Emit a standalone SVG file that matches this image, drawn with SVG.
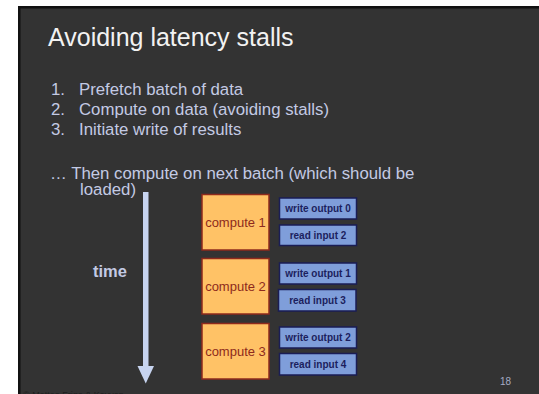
<svg xmlns="http://www.w3.org/2000/svg" width="539" height="394" viewBox="0 0 539 394">
  <style>
    .title { font-family: "Liberation Sans", Arial, sans-serif; font-size: 25px; fill: #F2F2F2; }
    .body { font-family: "Liberation Sans", Arial, sans-serif; font-size: 16.8px; fill: #C3CAE4; }
    .compute rect { fill: #FFC266; stroke: #8E2A1C; stroke-width: 1.5; }
    .compute text { font-family: "Liberation Sans", Arial, sans-serif; font-size: 13px; fill: #8E2A1C; text-anchor: middle; }
    .io rect { fill: #7F9EDA; stroke: #1A1D55; stroke-width: 1.5; }
    .io text { font-family: "Liberation Sans", Arial, sans-serif; font-size: 10px; font-weight: bold; fill: #1C1F5E; text-anchor: middle; }
  </style>

  <!-- page + slide frame -->
  <rect x="0" y="0" width="539" height="394" fill="#FFFFFF"/>
  <rect x="18" y="6" width="530" height="400" fill="#111111"/>
  <rect x="20.5" y="8.5" width="530" height="400" fill="#333333"/>

  <!-- heading and bullet text -->
  <text class="title" x="48" y="46">Avoiding latency stalls</text>
  <text class="body" x="51" y="95">1.</text>
  <text class="body" x="79" y="95">Prefetch batch of data</text>
  <text class="body" x="51" y="115">2.</text>
  <text class="body" x="79" y="115">Compute on data (avoiding stalls)</text>
  <text class="body" x="51" y="135">3.</text>
  <text class="body" x="79" y="135">Initiate write of results</text>
  <text class="body" x="50" y="179">… Then compute on next batch (which should be</text>
  <text class="body" x="80" y="195">loaded)</text>
  <text x="93" y="277" font-family="Liberation Sans, Arial, sans-serif" font-size="16.5" font-weight="bold" fill="#C3CAE4">time</text>

  <!-- time axis -->
  <g id="connectors">
    <rect x="143" y="192" width="5.5" height="175" fill="#C7D4F0"/>
    <polygon points="137.5,366 154,366 145.75,383.5" fill="#C7D4F0"/>
  </g>

  <!-- compute blocks -->
  <g id="compute1" class="compute">
    <rect x="202" y="194.5" width="67" height="55.5"/>
    <text x="235.5" y="227">compute 1</text>
  </g>
  <g id="compute2" class="compute">
    <rect x="202" y="258.5" width="67" height="55.5"/>
    <text x="235.5" y="291">compute 2</text>
  </g>
  <g id="compute3" class="compute">
    <rect x="202" y="323.5" width="67" height="55.5"/>
    <text x="235.5" y="356">compute 3</text>
  </g>

  <!-- transfer blocks -->
  <g id="write0" class="io">
    <rect x="279.5" y="198" width="77" height="21"/>
    <text x="318" y="212">write output 0</text>
  </g>
  <g id="read2" class="io">
    <rect x="279.5" y="225" width="77" height="20.5"/>
    <text x="318" y="239">read input 2</text>
  </g>
  <g id="write1" class="io">
    <rect x="279.5" y="263" width="77" height="21"/>
    <text x="318" y="277">write output 1</text>
  </g>
  <g id="read3" class="io">
    <rect x="278.5" y="289.5" width="77.5" height="21.5"/>
    <text x="317.5" y="304">read input 3</text>
  </g>
  <g id="write2" class="io">
    <rect x="279.5" y="327" width="77" height="21"/>
    <text x="318" y="341">write output 2</text>
  </g>
  <g id="read4" class="io">
    <rect x="279.5" y="353.5" width="77" height="21.5"/>
    <text x="318" y="368">read input 4</text>
  </g>

  <!-- footer -->
  <text x="500" y="385" font-family="Liberation Sans, Arial, sans-serif" font-size="10" fill="#A5ACC4">18</text>
  <text x="23" y="398" font-family="Liberation Sans, Arial, sans-serif" font-size="9" fill="#1E1E1E">© Matteo Frigo &amp; Kayvon</text>
</svg>
